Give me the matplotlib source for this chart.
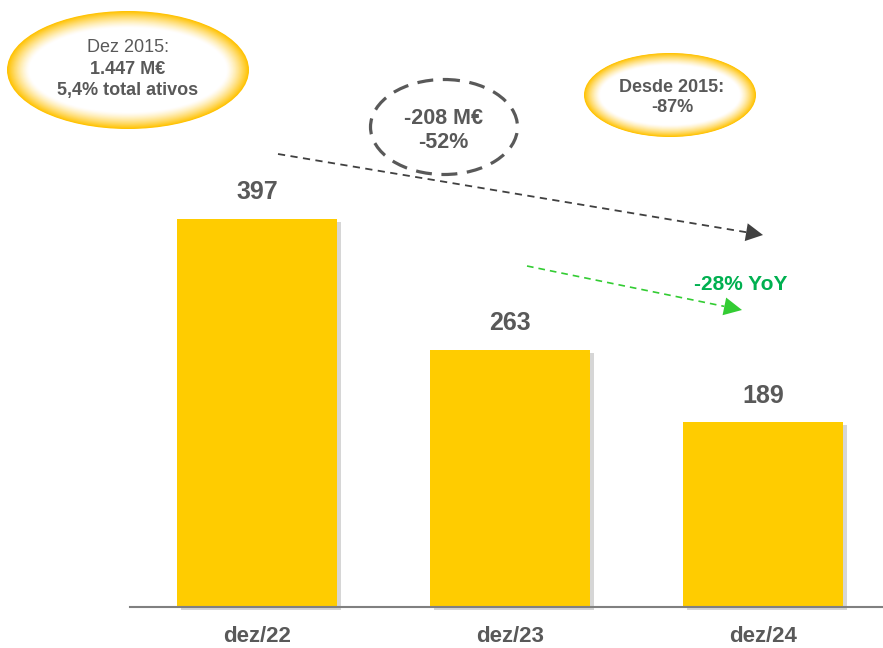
import matplotlib.pyplot as plt
import matplotlib.patheffects as pe
from matplotlib.patches import Ellipse, Polygon
import numpy as np

plt.rcParams['font.family'] = ['Liberation Sans', 'DejaVu Sans']

categories = ['dez/22', 'dez/23', 'dez/24']
values = [397, 263, 189]

GOLD = '#FFCC00'
GRAY = '#595959'

W, H = 883, 648
fig = plt.figure(figsize=(W / 100, H / 100), dpi=100)

# main axes: bars
ax = fig.add_axes([0, 0, 1, 1])
x = np.arange(len(categories))
px_per_unit = 253.0
val_scale = 0.977
ax.set_xlim(-257 / px_per_unit, (W - 257) / px_per_unit)
ax.set_ylim(-41 / val_scale, (H - 41) / val_scale)
ax.axis('off')

bars = ax.bar(x, values, width=160 / px_per_unit, color=GOLD, zorder=3,
              path_effects=[pe.SimplePatchShadow(offset=(3, -2), shadow_rgbFace='#8a8a8a', alpha=0.35),
                            pe.Normal()])
for xi, v in zip(x, values):
    ax.text(xi, v + 15, str(v), ha='center', va='bottom', fontsize=18,
            fontweight='bold', color=GRAY)
for xi, c in zip(x, categories):
    ax.text(xi, -30, c, ha='center', va='center', fontsize=16,
            fontweight='bold', color=GRAY)
ax.plot([-127 / px_per_unit, (W - 257) / px_per_unit], [0, 0], color='#808080', lw=1.5, zorder=4)

# overlay axes in pixel coords for annotations
ov = fig.add_axes([0, 0, 1, 1], facecolor='none')
ov.set_xlim(0, W)
ov.set_ylim(H, 0)
ov.axis('off')


def glow_ellipse(cx, cy, w, h, n=30, edge=22):
    # gold rim fading into white centre
    for i in range(n):
        t = i / (n - 1)
        d = edge * t
        col = np.array([1.0, 0.76, 0.0]) * (1 - t) ** 1.3 + np.array([1.0, 1.0, 1.0]) * (1 - (1 - t) ** 1.3)
        ov.add_patch(Ellipse((cx, cy), w - 2 * d, h - 2 * d * 0.75,
                             facecolor=col, edgecolor='none', zorder=5 + i * 0.01))


def dashed_arrow(p0, p1, color, lw=1.2, head_len=17, head_w=10):
    p0 = np.array(p0, float)
    p1 = np.array(p1, float)
    u = (p1 - p0) / np.linalg.norm(p1 - p0)
    n = np.array([-u[1], u[0]])
    base = p1 - u * head_len
    ov.plot([p0[0], base[0]], [p0[1], base[1]], color=color, lw=lw,
            linestyle=(0, (4, 3)), zorder=6)
    ov.add_patch(Polygon([p1, base + n * head_w, base - n * head_w],
                         closed=True, facecolor=color, edgecolor='none', zorder=6))


glow_ellipse(128, 70, 242, 118)
ov.text(128, 48, 'Dez 2015:', ha='center', va='center', fontsize=13, color=GRAY, zorder=7)
ov.text(128, 70, '1.447 M€', ha='center', va='center', fontsize=13, fontweight='bold', color=GRAY, zorder=7)
ov.text(128, 91, '5,4% total ativos', ha='center', va='center', fontsize=13, fontweight='bold', color=GRAY, zorder=7)

glow_ellipse(670, 95, 172, 84, edge=16)
ov.text(672, 87, 'Desde 2015:', ha='center', va='center', fontsize=13, fontweight='bold', color=GRAY, zorder=7)
ov.text(672, 108, '-87%', ha='center', va='center', fontsize=13, fontweight='bold', color=GRAY, zorder=7)

ov.add_patch(Ellipse((444, 127), 147, 95, facecolor='none', edgecolor=GRAY,
                     lw=2.3, linestyle=(0, (5, 3)), zorder=6))
ov.text(443, 119, '-208 M€', ha='center', va='center', fontsize=15.5, fontweight='bold', color=GRAY, zorder=7)
ov.text(443, 143, '-52%', ha='center', va='center', fontsize=15.5, fontweight='bold', color=GRAY, zorder=7)

dashed_arrow((278, 154), (763, 235), '#404040', lw=1.3, head_len=17, head_w=9)
dashed_arrow((527, 266), (742, 310), '#33CC33', lw=1.2, head_len=18, head_w=9)
ov.text(741, 285, '-28% YoY', ha='center', va='center', fontsize=15, fontweight='bold',
        color='#00B050', zorder=7)

fig.savefig('out.png', dpi=100)
